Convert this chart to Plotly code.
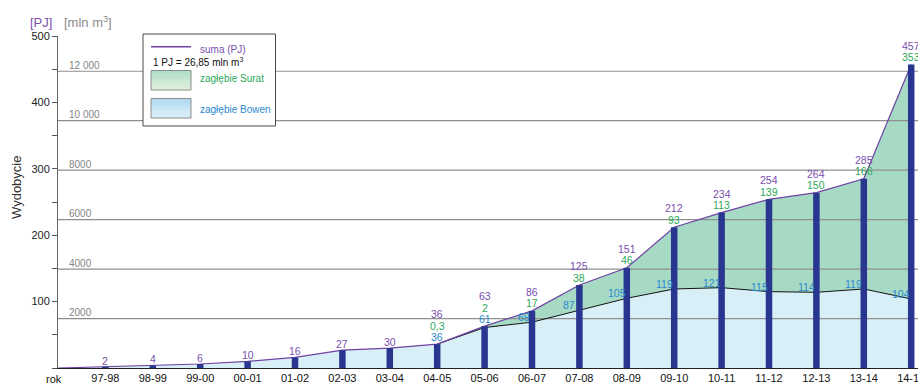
import plotly.graph_objects as go

# Coal-seam gas production in Queensland, PJ per season
seasons = ["rok", "97-98", "98-99", "99-00", "00-01", "01-02", "02-03", "03-04", "04-05",
           "05-06", "06-07", "07-08", "08-09", "09-10", "10-11", "11-12", "12-13", "13-14", "14-15"]
total_pj = [0, 2, 4, 6, 10, 16, 27, 30, 36, 63, 86, 125, 151, 212, 234, 254, 264, 285, 457]
bowen_pj = [0, 2, 4, 6, 10, 16, 27, 30, 36, 61, 69, 87, 105, 119, 121, 115, 114, 119, 104]
surat_pj = [None] * 8 + [0.3, 2, 17, 38, 46, 93, 113, 139, 150, 166, 353]

# Secondary scale: million cubic metres
PJ_TO_MLN_M3 = 26.85
grid_mln_m3 = [2000, 4000, 6000, 8000, 10000, 12000]
grid_labels = ["2000", "4000", "6000", "8000", "10 000", "12 000"]

y_ticks = list(range(0, 501, 50))
y_ticktext = [str(v) if v % 100 == 0 and v > 0 else "" for v in y_ticks]

FONT = "Liberation Sans, Arial, sans-serif"
PURPLE = "#6f42a3"
PURPLE_TXT = "#7a4fae"
GREEN_TXT = "#2ea95a"
BLUE_TXT = "#2a8ad0"
BAR = "#28368f"
FILL_BLUE = "#d9eff8"
FILL_GREEN = "#a6dac5"
GRID = "#8f8f8f"

W, H = 918, 383
ML, MR, MT, MB = 58, 0, 36, 15
PW, PH = W - ML - MR, H - MT - MB
STEP = 47.4  # pixel width of one season
x_max = PW / STEP

idx = list(range(len(seasons)))


def xp(px):
    return (px - ML) / PW


def yp(py):
    return (H - MB - py) / PH


fig = go.Figure()

# Stacked areas: Bowen at the bottom, Surat on top of it
fig.add_trace(go.Scatter(x=idx, y=bowen_pj, mode="lines", line=dict(width=0),
                         fill="tozeroy", fillcolor=FILL_BLUE, hoverinfo="skip"))
fig.add_trace(go.Scatter(x=idx, y=total_pj, mode="lines", line=dict(width=0),
                         fill="tonexty", fillcolor=FILL_GREEN, hoverinfo="skip"))

# Horizontal grid in mln m3
gx, gy = [], []
for g in grid_mln_m3:
    v = g / PJ_TO_MLN_M3
    gx += [0, x_max, None]
    gy += [v, v, None]
fig.add_trace(go.Scatter(x=gx, y=gy, mode="lines", line=dict(color=GRID, width=1.2),
                         hoverinfo="skip"))

# Boundary between the basins and the total line
fig.add_trace(go.Scatter(x=idx[8:], y=bowen_pj[8:], mode="lines",
                         line=dict(color="#111111", width=1), hoverinfo="skip"))
fig.add_trace(go.Scatter(x=idx, y=total_pj, mode="lines",
                         line=dict(color=PURPLE, width=1.2), hoverinfo="skip"))

# Season columns for the total (drawn as thick segments so they sit above the areas)
bx, by = [], []
for i in idx[1:]:
    bx += [i, i, None]
    by += [0, total_pj[i], None]
fig.add_trace(go.Scatter(x=bx, y=by, mode="lines", line=dict(color=BAR, width=6.5),
                         hoverinfo="skip"))

ann = []


def fmt(v):
    s = ("%g" % v)
    return s.replace(".", ",")


def lab(x, y, text, color, yshift, xshift=0):
    ann.append(dict(x=x, y=y, xref="x", yref="y", text=text, showarrow=False,
                    font=dict(family=FONT, size=10.5, color=color),
                    xanchor="center", yanchor="middle", yshift=yshift, xshift=xshift))


for i in idx[1:]:
    t = total_pj[i]
    if surat_pj[i] is None:
        lab(i, t, fmt(t), PURPLE_TXT, 6)
    elif i <= 9:
        lab(i, t, fmt(bowen_pj[i]), BLUE_TXT, 7)
        lab(i, t, fmt(surat_pj[i]), GREEN_TXT, 18.5)
        lab(i, t, fmt(t), PURPLE_TXT, 30)
    else:
        lab(i, t, fmt(surat_pj[i]), GREEN_TXT, 7.5)
        lab(i, t, fmt(t), PURPLE_TXT, 19)
        lab(i, bowen_pj[i], fmt(bowen_pj[i]), BLUE_TXT, 5, -10 if i > 10 else -8)

# Grid labels
for g, txt in zip(grid_mln_m3, grid_labels):
    ann.append(dict(x=0, y=g / PJ_TO_MLN_M3, xref="x", yref="y", text=txt, showarrow=False,
                    font=dict(family=FONT, size=10, color="#858585"),
                    xanchor="left", yanchor="middle", xshift=9, yshift=6))


def pix_text(px, py, text, color, size, anchor="left", angle=0):
    ann.append(dict(x=xp(px), y=yp(py), xref="paper", yref="paper", text=text, showarrow=False,
                    font=dict(family=FONT, size=size, color=color), textangle=angle,
                    xanchor=anchor, yanchor="middle"))


# Units and axis title
pix_text(28, 22.5, "[PJ]", PURPLE_TXT, 13)
pix_text(62, 22.5, "[mln m<sup>3</sup>]", "#8a8a8a", 13)
pix_text(16, 188, "Wydobycie", "#333333", 13, anchor="center", angle=-90)

# First category label sits just left of the value axis
tick_labels = [""] + seasons[1:]
pix_text(54, 378.5, seasons[0], "#111111", 11, anchor="center")

# Legend box
shapes = []


def pix_rect(x0, y0, x1, y1, fill, line_color=None, lw=0):
    shapes.append(dict(type="rect", xref="paper", yref="paper",
                       x0=xp(x0), x1=xp(x1), y0=yp(y1), y1=yp(y0),
                       fillcolor=fill, layer="above",
                       line=dict(color=line_color or fill, width=lw)))


pix_rect(143, 34, 275.5, 126, "white", "#4a4a4a", 1)
shapes.append(dict(type="line", xref="paper", yref="paper", x0=xp(151), x1=xp(191),
                   y0=yp(46.7), y1=yp(46.7), layer="above", line=dict(color=PURPLE, width=1.5)))


def hex_rgb(h):
    h = h.lstrip("#")
    return [int(h[k:k + 2], 16) for k in (0, 2, 4)]


def gradient_swatch(x0, y0, x1, y1, top, bottom, n=20):
    a, b = hex_rgb(top), hex_rgb(bottom)
    hstep = (y1 - y0) / n
    for k in range(n):
        f = k / (n - 1)
        c = "rgb(%d,%d,%d)" % tuple(round(a[j] + (b[j] - a[j]) * f) for j in range(3))
        pix_rect(x0, y0 + k * hstep, x1, y0 + (k + 1) * hstep + 0.3, c)
    shapes.append(dict(type="rect", xref="paper", yref="paper", x0=xp(x0), x1=xp(x1),
                       y0=yp(y1), y1=yp(y0), layer="above", fillcolor="rgba(0,0,0,0)",
                       line=dict(color="#8c8c8c", width=1)))


gradient_swatch(151, 70.5, 191, 90, "#a3d9bf", "#e2efdc")
gradient_swatch(151, 98.5, 191, 118, "#a3d3ef", "#ddf0fa")

pix_text(198, 49, "suma (PJ)", PURPLE_TXT, 10)
pix_text(151, 62, "1 PJ = 26,85 mln m<sup>3</sup>", "#111111", 10)
pix_text(198, 78.5, "zagłębie Surat", GREEN_TXT, 10)
pix_text(198, 109.5, "zagłębie Bowen", BLUE_TXT, 10)

fig.update_layout(
    width=W, height=H,
    margin=dict(l=ML, r=MR, t=MT, b=MB, pad=0, autoexpand=False),
    paper_bgcolor="white", plot_bgcolor="white",
    showlegend=False,
    annotations=ann,
    shapes=shapes,
    xaxis=dict(range=[0, x_max], tickmode="array", tickvals=idx, ticktext=tick_labels,
               showline=True, linecolor="#222222", linewidth=1, ticks="", showgrid=False,
               zeroline=False, tickfont=dict(family=FONT, size=11, color="#111111"),
               ticklabeloverflow="allow", automargin=False, fixedrange=True),
    yaxis=dict(range=[0, 500], tickmode="array", tickvals=y_ticks, ticktext=y_ticktext,
               showline=True, linecolor="#666666", linewidth=1, ticks="outside", ticklen=5,
               tickcolor="#555555", showgrid=False, zeroline=False, automargin=False,
               tickfont=dict(family=FONT, size=11, color="#222222"), fixedrange=True),
)

fig.write_html("out.html")
